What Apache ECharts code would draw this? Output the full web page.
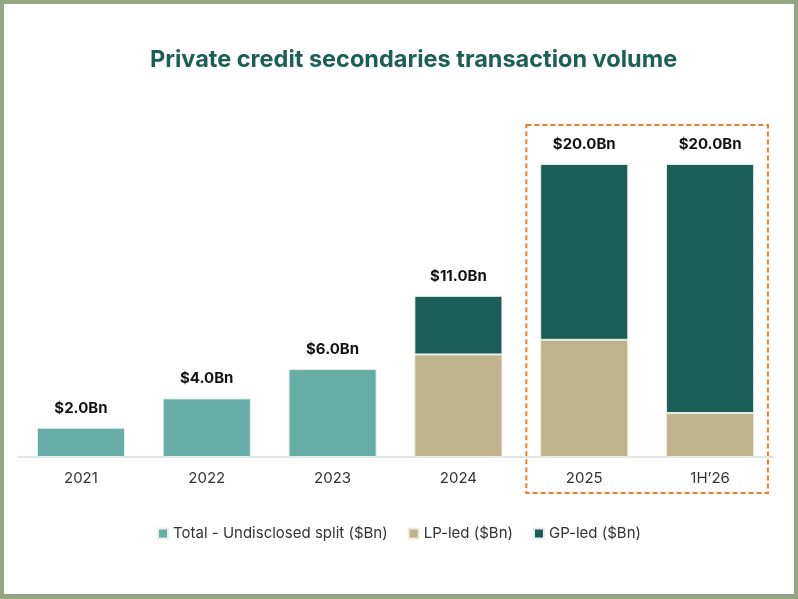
<!DOCTYPE html>
<html lang="en">
<head>
  <meta charset="UTF-8">
  <title>Private credit secondaries transaction volume</title>
  <script src="https://cdn.jsdelivr.net/npm/echarts@6.0.0/dist/echarts.min.js"></script>
  <style>
    html, body { margin: 0; padding: 0; background: #95a682; }
    #main { position: absolute; left: 4px; top: 4px; width: 790px; height: 590px; background: #fff; }
  </style>
</head>
<body>
  <div id="main"></div>
  <script type="text/javascript">
    // Data ($Bn)
    var categories = ['2021', '2022', '2023', '2024', '2025', '1H\u201926'];
    var totalUndisclosed = [2, 4, 6, null, null, null];
    var lpLed = [null, null, null, 7, 8, 3];
    var gpLed = [null, null, null, 4, 12, 17];
    var highlighted = ['2025', '1H\u201926'];

    var fontFamily = 'Inter, "Noto Sans", sans-serif';

    function totalAt(i) {
      return (totalUndisclosed[i] || 0) + (lpLed[i] || 0) + (gpLed[i] || 0);
    }
    function totalLabel(p) {
      return '$' + totalAt(p.dataIndex).toFixed(1) + 'Bn';
    }

    var labelStyle = {
      show: true,
      position: 'top',
      distance: 12,
      color: '#111',
      fontWeight: 'bold',
      fontSize: 15,
      fontFamily: fontFamily,
      formatter: totalLabel
    };

    var myChart = echarts.init(document.getElementById('main'));

    var option = {
      animation: false,
      title: {
        text: 'Private credit secondaries transaction volume',
        left: 141,
        top: 39,
        textStyle: { color: '#1d5e55', fontSize: 23.5, fontWeight: 'bold', fontFamily: fontFamily }
      },
      legend: {
        bottom: 48,
        left: 'center',
        itemWidth: 10,
        itemHeight: 10,
        itemGap: 20,
        icon: 'rect',
        textStyle: { color: '#333', fontSize: 15, fontFamily: fontFamily }
      },
      grid: { left: 14, right: 21, top: 160, bottom: 137 },
      xAxis: {
        type: 'category',
        data: categories,
        axisTick: { show: false },
        axisLine: { lineStyle: { color: '#dfe6e6', width: 2 } },
        axisLabel: { color: '#333', fontSize: 15, margin: 14, fontFamily: fontFamily }
      },
      yAxis: {
        type: 'value',
        min: 0,
        max: 20,
        show: false,
        splitLine: { show: false }
      },
      series: [
        {
          name: 'Total - Undisclosed split ($Bn)',
          type: 'bar',
          stack: 'vol',
          barCategoryGap: '30%',
          data: totalUndisclosed,
          itemStyle: { color: '#66ada6', borderColor: '#e6eeec', borderWidth: 1 },
          label: labelStyle
        },
        {
          name: 'LP-led ($Bn)',
          type: 'bar',
          stack: 'vol',
          data: lpLed,
          itemStyle: { color: '#bfb38c', borderColor: '#eeebe0', borderWidth: 1 }
        },
        {
          name: 'GP-led ($Bn)',
          type: 'bar',
          stack: 'vol',
          data: gpLed,
          itemStyle: { color: '#1b5e57', borderColor: '#e6eeec', borderWidth: 1 },
          label: labelStyle
        }
      ]
    };

    myChart.setOption(option);

    // Dashed box around the highlighted categories, placed via the axis scales
    var c0 = myChart.convertToPixel({ xAxisIndex: 0 }, highlighted[0]);
    var c1 = myChart.convertToPixel({ xAxisIndex: 0 }, highlighted[highlighted.length - 1]);
    var band = myChart.convertToPixel({ xAxisIndex: 0 }, categories[1]) - myChart.convertToPixel({ xAxisIndex: 0 }, categories[0]);
    var yTop = myChart.convertToPixel({ yAxisIndex: 0 }, 20);
    var yBase = myChart.convertToPixel({ yAxisIndex: 0 }, 0);
    var pad = band * 0.46;
    myChart.setOption({
      graphic: [{
        type: 'rect',
        shape: { x: c0 - pad, y: yTop - 39, width: c1 - c0 + 2 * pad, height: yBase - yTop + 75 },
        style: { fill: 'none', stroke: '#f07d26', lineWidth: 2, lineDash: [5, 3] },
        silent: true
      }]
    });
  </script>
</body>
</html>
